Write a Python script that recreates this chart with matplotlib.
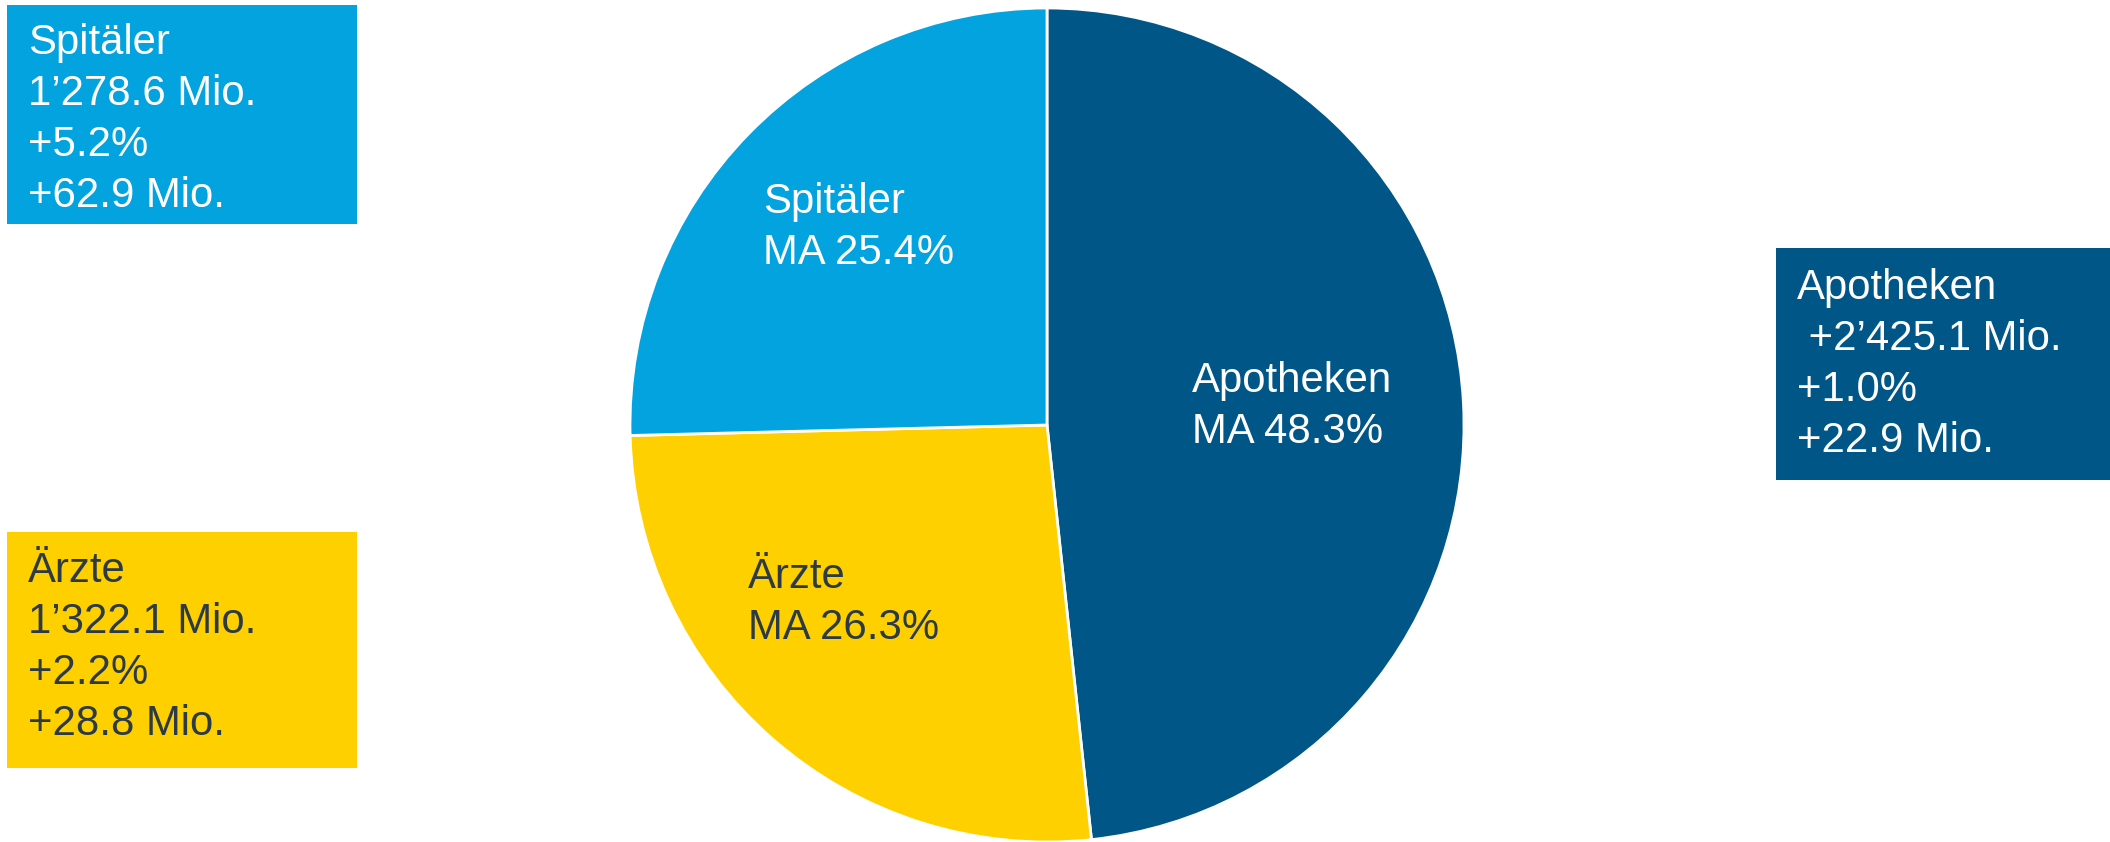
import matplotlib.pyplot as plt
from matplotlib.patches import Rectangle

plt.rcParams['font.family'] = ['Liberation Sans', 'DejaVu Sans']

categories = ['Apotheken', 'Ärzte', 'Spitäler']
shares = [48.3, 26.3, 25.4]
colors = ['#005687', '#FFD000', '#03A3E0']
text_colors = ['white', '#2B3A44', 'white']

box_lines = {
    'Spitäler': ['Spitäler', '1’278.6 Mio.', '+5.2%', '+62.9 Mio.'],
    'Ärzte': ['Ärzte', '1’322.1 Mio.', '+2.2%', '+28.8 Mio.'],
    'Apotheken': ['Apotheken', ' +2’425.1 Mio.', '+1.0%', '+22.9 Mio.'],
}

W, H = 2110, 842
FS = 30.2
LS = 1.35
fig = plt.figure(figsize=(W / 100, H / 100), dpi=100)
ax = fig.add_axes([0, 0, 1, 1])

cx, cy, R = 1047, H - 425, 417
wedges, _ = ax.pie(shares, colors=colors, startangle=90, counterclock=False,
                   center=(cx, cy), radius=R, frame=True,
                   wedgeprops=dict(edgecolor='white', linewidth=2))

# labels inside the slices: left edge / last-line baseline, pixels from top-left
label_pos = {'Apotheken': (1192, 443), 'Ärzte': (748, 639), 'Spitäler': (763, 264)}
for cat, share, tc in zip(categories, shares, text_colors):
    x, y = label_pos[cat]
    ax.text(x, H - y, f'{cat}\nMA {share:.1f}%', color=tc, fontsize=FS,
            ha='left', va='baseline', linespacing=LS)

# side boxes (x0, y_top, width, height in pixels)
boxes = {
    'Spitäler': (7, 5, 350, 219),
    'Ärzte': (7, 532, 350, 236),
    'Apotheken': (1776, 248, 334, 232),
}
box_text = {'Spitäler': (28, 207), 'Ärzte': (28, 735), 'Apotheken': (1797, 452)}
for cat, col, tc in zip(categories, colors, text_colors):
    x0, yt, bw, bh = boxes[cat]
    ax.add_patch(Rectangle((x0, H - yt - bh), bw, bh, facecolor=col, edgecolor='none'))
    tx, ty = box_text[cat]
    ax.text(tx, H - ty, '\n'.join(box_lines[cat]), color=tc, fontsize=FS,
            ha='left', va='baseline', linespacing=LS)

ax.set_xlim(0, W)
ax.set_ylim(0, H)
ax.set_aspect('auto')
ax.axis('off')

fig.savefig('out.png', dpi=100)
